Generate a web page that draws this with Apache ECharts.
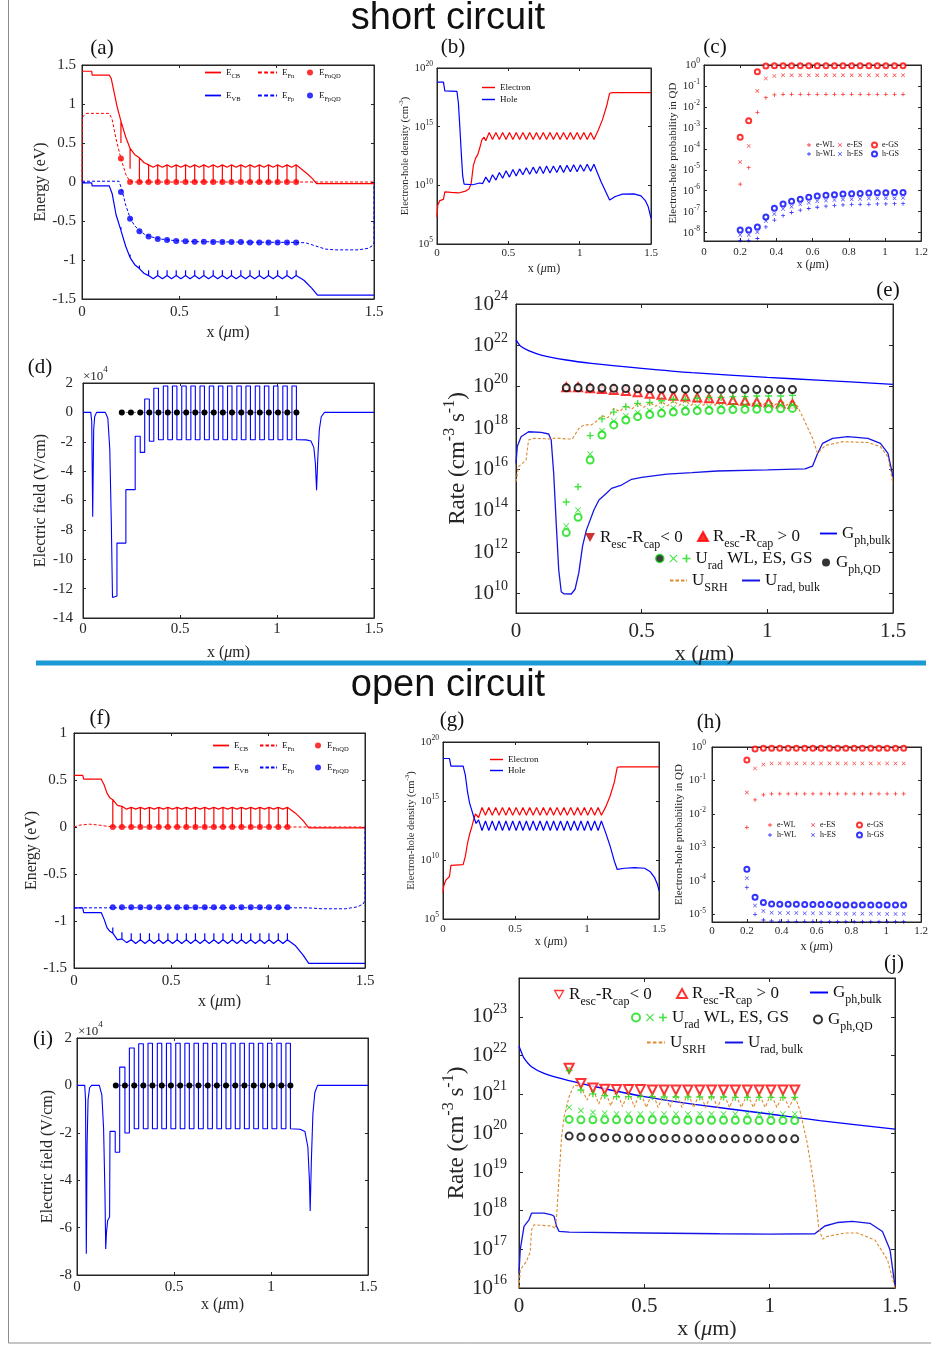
<!DOCTYPE html>
<html>
<head>
<meta charset="utf-8">
<title>short circuit / open circuit</title>
<script src="https://cdn.jsdelivr.net/npm/echarts@6.0.0/dist/echarts.min.js"></script>
<style>
  html, body { margin: 0; padding: 0; background: #fff; }
  #main { width: 931px; height: 1346px; }
</style>
</head>
<body>
<div id="main"></div>
<script>
// QD positions (um), shared by all marker series
const qdX = [0.2, 0.247, 0.295, 0.342, 0.389, 0.437, 0.484, 0.532, 0.579, 0.626, 0.674, 0.721, 0.768, 0.816, 0.863, 0.911, 0.958, 1.005, 1.053, 1.1];

// ---------- (a) band diagram, short circuit (eV) ----------
const aEcb = [[0,1.42],[0.05,1.42],[0.052,1.37],[0.14,1.37],[0.15,1.33],[0.165,1.15],[0.18,0.97],[0.2,0.78],[0.2,0.5],[0.2,0.78],[0.224,0.58],[0.247,0.43],[0.247,0.17],[0.247,0.43],[0.271,0.35],[0.295,0.31],[0.295,0],[0.295,0.31],[0.318,0.25],[0.342,0.22],[0.342,0],[0.342,0.22],[0.366,0.19],
  [0.389,0.22],[0.389,0],[0.389,0.22],[0.413,0.19],[0.437,0.22],[0.437,0],[0.437,0.22],[0.46,0.19],[0.484,0.22],[0.484,0],[0.484,0.22],[0.508,0.19],
  [0.532,0.22],[0.532,0],[0.532,0.22],[0.555,0.19],[0.579,0.22],[0.579,0],[0.579,0.22],[0.602,0.19],[0.626,0.22],[0.626,0],[0.626,0.22],[0.65,0.19],
  [0.674,0.22],[0.674,0],[0.674,0.22],[0.697,0.19],[0.721,0.22],[0.721,0],[0.721,0.22],[0.745,0.19],[0.768,0.22],[0.768,0],[0.768,0.22],[0.792,0.19],
  [0.816,0.22],[0.816,0],[0.816,0.22],[0.84,0.19],[0.863,0.22],[0.863,0],[0.863,0.22],[0.887,0.19],[0.911,0.22],[0.911,0],[0.911,0.22],[0.935,0.19],
  [0.958,0.22],[0.958,0],[0.958,0.22],[0.982,0.19],[1.005,0.22],[1.005,0],[1.005,0.22],[1.029,0.19],[1.053,0.22],[1.053,0],[1.053,0.22],[1.077,0.19],
  [1.1,0.22],[1.1,0],[1.1,0.22],[1.13,0.16],[1.16,0.1],[1.185,0.04],[1.205,-0.02],[1.5,-0.02]];
const aEvb = [[0,-0.01],[0.05,-0.01],[0.052,-0.05],[0.14,-0.05],[0.155,-0.15],[0.175,-0.42],[0.2,-0.62],[0.2,-0.58],[0.2,-0.62],[0.224,-0.82],[0.247,-0.97],[0.247,-0.93],[0.247,-0.97],[0.271,-1.06],[0.295,-1.11],[0.295,-1.07],[0.295,-1.11],[0.318,-1.17],[0.342,-1.2],[0.342,-1.13],[0.342,-1.2],[0.366,-1.24],
  [0.389,-1.2],[0.389,-1.13],[0.389,-1.2],[0.413,-1.24],[0.437,-1.2],[0.437,-1.13],[0.437,-1.2],[0.46,-1.24],[0.484,-1.2],[0.484,-1.13],[0.484,-1.2],[0.508,-1.24],
  [0.532,-1.2],[0.532,-1.13],[0.532,-1.2],[0.555,-1.24],[0.579,-1.2],[0.579,-1.13],[0.579,-1.2],[0.602,-1.24],[0.626,-1.2],[0.626,-1.13],[0.626,-1.2],[0.65,-1.24],
  [0.674,-1.2],[0.674,-1.13],[0.674,-1.2],[0.697,-1.24],[0.721,-1.2],[0.721,-1.13],[0.721,-1.2],[0.745,-1.24],[0.768,-1.2],[0.768,-1.13],[0.768,-1.2],[0.792,-1.24],
  [0.816,-1.2],[0.816,-1.13],[0.816,-1.2],[0.84,-1.24],[0.863,-1.2],[0.863,-1.13],[0.863,-1.2],[0.887,-1.24],[0.911,-1.2],[0.911,-1.13],[0.911,-1.2],[0.935,-1.24],
  [0.958,-1.2],[0.958,-1.13],[0.958,-1.2],[0.982,-1.24],[1.005,-1.2],[1.005,-1.13],[1.005,-1.2],[1.029,-1.24],[1.053,-1.2],[1.053,-1.13],[1.053,-1.2],[1.077,-1.24],
  [1.1,-1.2],[1.1,-1.13],[1.1,-1.2],[1.14,-1.26],[1.18,-1.36],[1.21,-1.45],[1.5,-1.45]];
const aEfn = [[0,0],[0.002,0.83],[0.02,0.88],[0.14,0.88],[0.155,0.8],[0.175,0.55],[0.2,0.3],[0.225,0.1],[0.245,0.01],[0.27,0],[1.5,0]];
const aEfp = [[0,0.01],[0.19,0.01],[0.205,-0.1],[0.225,-0.3],[0.247,-0.46],[0.27,-0.56],[0.295,-0.62],[0.32,-0.67],[0.35,-0.7],[0.4,-0.73],[0.45,-0.745],[0.5,-0.755],[0.6,-0.765],[0.8,-0.77],[1.1,-0.775],[1.15,-0.78],[1.2,-0.82],[1.25,-0.86],[1.3,-0.87],[1.42,-0.87],[1.47,-0.85],[1.49,-0.82],[1.5,-0.78],[1.5,0]];
const aFnQd = [0.3, 0, 0, 0, 0, 0, 0, 0, 0, 0, 0, 0, 0, 0, 0, 0, 0, 0, 0, 0];
const aFpQd = [-0.128, -0.47, -0.63, -0.7, -0.73, -0.745, -0.755, -0.76, -0.765, -0.765, -0.77, -0.77, -0.77, -0.77, -0.775, -0.775, -0.775, -0.775, -0.775, -0.775];

// ---------- (b) carrier density, short circuit (log10 cm^-3) ----------
const bElec = [[0,7.3],[0.005,8.3],[0.02,8.7],[0.045,8.8],[0.055,9.45],[0.1,9.4],[0.15,9.35],[0.2,9.5],[0.225,9.7],[0.24,10.2],[0.255,11.7],[0.27,12.3],[0.285,12.6],[0.3,13.2],[0.315,13.9],[0.33,14.1],
  [0.342,13.8],[0.366,14.5],[0.389,13.9],[0.413,14.5],[0.437,13.9],[0.46,14.5],[0.484,13.9],[0.508,14.5],[0.532,13.9],[0.555,14.5],[0.579,13.9],[0.602,14.5],[0.626,13.9],[0.65,14.5],
  [0.674,13.9],[0.697,14.5],[0.721,13.9],[0.745,14.5],[0.768,13.9],[0.792,14.5],[0.816,13.9],[0.84,14.5],[0.863,13.9],[0.887,14.5],[0.911,13.9],[0.935,14.5],[0.958,13.9],[0.982,14.5],
  [1.005,13.9],[1.029,14.5],[1.053,13.9],[1.077,14.5],[1.1,13.9],[1.13,14.7],[1.16,15.6],[1.19,16.8],[1.21,17.85],[1.23,17.9],[1.5,17.9]];
const bHole = [[0,18.8],[0.045,18.8],[0.055,18.05],[0.14,18.0],[0.15,17.0],[0.16,15.0],[0.17,12.8],[0.18,10.8],[0.19,10.1],[0.2,10.05],[0.25,10.05],[0.3,10.2],[0.32,10.15],
  [0.342,10.7],[0.366,10.25],[0.389,10.9],[0.413,10.45],[0.437,11.1],[0.46,10.6],[0.484,11.25],[0.508,10.7],[0.532,11.35],[0.555,10.8],[0.579,11.4],[0.602,10.9],[0.626,11.5],[0.65,10.95],
  [0.674,11.55],[0.697,11.0],[0.721,11.6],[0.745,11.0],[0.768,11.65],[0.792,11.05],[0.816,11.65],[0.84,11.1],[0.863,11.7],[0.887,11.1],[0.911,11.7],[0.935,11.15],[0.958,11.75],[0.982,11.15],
  [1.005,11.75],[1.029,11.2],[1.053,11.8],[1.077,11.2],[1.1,11.8],[1.15,10.3],[1.21,8.75],[1.25,9.05],[1.3,9.25],[1.38,9.27],[1.43,9.1],[1.46,8.7],[1.48,8.2],[1.5,7.2]];

// ---------- (c) occupation probability, short circuit (log10) ----------
const cEwl = [-5.69, -4.9, -2.26, -1.56, -1.43, -1.4, -1.4, -1.4, -1.4, -1.4, -1.4, -1.4, -1.4, -1.4, -1.4, -1.4, -1.4, -1.4, -1.4, -1.4];
const cEes = [-4.63, -3.86, -1.24, -0.64, -0.52, -0.49, -0.49, -0.49, -0.49, -0.49, -0.49, -0.49, -0.49, -0.49, -0.49, -0.49, -0.49, -0.49, -0.49, -0.49];
const cEgs = [-3.45, -2.66, -0.32, -0.05, -0.03, -0.03, -0.03, -0.03, -0.03, -0.03, -0.03, -0.03, -0.03, -0.03, -0.03, -0.03, -0.03, -0.03, -0.03, -0.03];
const cHwl = [-8.38, -8.38, -8.28, -7.73, -7.4, -7.19, -7.04, -6.93, -6.85, -6.79, -6.74, -6.71, -6.68, -6.66, -6.65, -6.65, -6.63, -6.63, -6.62, -6.62];
const cHes = [-8.11, -8.11, -7.97, -7.44, -7.11, -6.87, -6.76, -6.65, -6.57, -6.5, -6.47, -6.44, -6.42, -6.41, -6.39, -6.37, -6.37, -6.36, -6.36, -6.34];
const cHgs = [-7.87, -7.87, -7.73, -7.25, -6.84, -6.63, -6.5, -6.41, -6.31, -6.25, -6.22, -6.19, -6.16, -6.14, -6.13, -6.11, -6.1, -6.1, -6.08, -6.08];

// ---------- (d) electric field, short circuit (1e4 V/cm) ----------
const dField = [[0,0],[0.04,0],[0.045,-0.6],[0.05,-7.1],[0.055,-1.2],[0.06,-0.3],[0.07,0],[0.115,0],[0.128,-0.4],[0.138,-2.5],[0.146,-7.5],[0.152,-12.6],[0.158,-12.5],[0.175,-12.5],[0.175,-8.9],[0.221,-8.9],[0.221,-5.26],[0.269,-5.26],[0.269,-1.63],[0.295,-1.63],[0.295,-2.72],[0.318,-2.72],[0.318,0.91],[0.342,0.91],[0.342,-1.97],[0.365,-1.97],[0.365,1.64],[0.389,1.64],[0.389,-1.86],
  [0.414,-1.86],[0.414,1.8],[0.437,1.8],[0.437,-1.86],[0.461,-1.86],[0.461,1.8],[0.484,1.8],[0.484,-1.86],[0.509,-1.86],[0.509,1.8],[0.532,1.8],[0.532,-1.86],
  [0.556,-1.86],[0.556,1.8],[0.579,1.8],[0.579,-1.86],[0.603,-1.86],[0.603,1.8],[0.626,1.8],[0.626,-1.86],[0.651,-1.86],[0.651,1.8],[0.674,1.8],[0.674,-1.86],
  [0.698,-1.86],[0.698,1.8],[0.721,1.8],[0.721,-1.86],[0.745,-1.86],[0.745,1.8],[0.768,1.8],[0.768,-1.86],[0.793,-1.86],[0.793,1.8],[0.816,1.8],[0.816,-1.86],
  [0.84,-1.86],[0.84,1.8],[0.863,1.8],[0.863,-1.86],[0.888,-1.86],[0.888,1.8],[0.911,1.8],[0.911,-1.86],[0.935,-1.86],[0.935,1.8],[0.958,1.8],[0.958,-1.86],
  [0.982,-1.86],[0.982,1.8],[1.005,1.8],[1.005,-1.86],[1.03,-1.86],[1.03,1.8],[1.053,1.8],[1.053,-1.86],[1.077,-1.86],[1.077,1.8],[1.1,1.8],[1.1,-1.86],
  [1.15,-1.87],[1.175,-1.95],[1.19,-2.4],[1.198,-3.5],[1.204,-5.3],[1.21,-3.2],[1.218,-1.2],[1.228,-0.3],[1.245,0],[1.5,0]];
const dDots = [0, 0, 0, 0, 0, 0, 0, 0, 0, 0, 0, 0, 0, 0, 0, 0, 0, 0, 0, 0];

// ---------- (e) rates, short circuit (log10 cm^-3 s^-1) ----------
const eGph = [[0,22.26],[0.01,22.08],[0.02,21.94],[0.05,21.74],[0.1,21.53],[0.2,21.29],[0.3,21.13],[0.5,20.89],[0.7,20.68],[1.0,20.45],[1.2,20.32],[1.5,20.11]];
const eUrad = [[0,16.29],[0.005,17.1],[0.02,17.58],[0.05,17.82],[0.1,17.79],[0.13,17.71],[0.14,17.42],[0.15,15.8],[0.16,13.39],[0.17,11.13],[0.18,10.08],[0.19,9.98],[0.22,9.97],[0.235,10.2],[0.25,11.0],[0.265,12.3],[0.28,13.06],[0.31,14.03],[0.33,14.52],[0.36,14.84],[0.38,15.08],[0.42,15.24],[0.46,15.52],[0.5,15.61],[0.6,15.77],[0.7,15.84],[0.8,15.92],[1.0,15.97],[1.15,16.02],[1.18,16.16],[1.2,16.77],[1.22,17.26],[1.26,17.5],[1.32,17.58],[1.4,17.5],[1.45,17.26],[1.48,16.77],[1.5,15.65]];
const eSrh = [[0,15.4],[0.01,16.13],[0.04,16.45],[0.05,17.42],[0.07,17.5],[0.14,17.47],[0.16,17.52],[0.2,17.47],[0.224,17.47],[0.25,17.98],[0.271,18.15],[0.3,18.15],[0.318,18.3],
  [0.342,18.6],[0.366,18.5],[0.389,18.95],[0.413,18.8],[0.437,19.1],[0.46,18.9],[0.484,19.2],[0.508,19.0],[0.532,19.25],[0.555,19.05],[0.579,19.28],[0.602,19.07],[0.626,19.3],[0.65,19.1],
  [0.674,19.32],[0.697,19.1],[0.721,19.33],[0.745,19.1],[0.768,19.34],[0.792,19.1],[0.816,19.35],[0.84,19.1],[0.863,19.35],[0.887,19.1],[0.911,19.35],[0.935,19.1],[0.958,19.35],[0.982,19.1],
  [1.005,19.35],[1.029,19.1],[1.053,19.35],[1.077,19.1],[1.1,19.35],[1.12,19.05],[1.15,18.3],[1.18,17.5],[1.2,16.77],[1.23,17.15],[1.3,17.34],[1.4,17.3],[1.45,17.1],[1.48,16.6],[1.5,15.3]];
const eGqd = [19.95, 19.95, 19.94, 19.93, 19.92, 19.91, 19.9, 19.9, 19.89, 19.89, 19.88, 19.88, 19.88, 19.87, 19.87, 19.87, 19.86, 19.86, 19.86, 19.86];
const eRpos = [19.97, 19.97, 19.92, 19.89, 19.84, 19.79, 19.73, 19.66, 19.61, 19.56, 19.52, 19.48, 19.44, 19.4, 19.35, 19.32, 19.27, 19.24, 19.19, 19.16];
const eRneg = [];
const eGs = [14.42, 15.16, 17.63, 18.44, 18.77, 19.03, 19.19, 19.24, 19.32, 19.39, 19.4, 19.44, 19.48, 19.48, 19.52, 19.52, 19.55, 19.55, 19.55, 19.58];
const eEs = [13.26, 14.03, 16.74, 17.87, 18.34, 18.58, 18.74, 18.84, 18.92, 18.97, 19.0, 19.03, 19.04, 19.06, 19.08, 19.1, 19.11, 19.11, 19.13, 19.13];
const eWl = [12.94, 13.68, 16.45, 17.66, 18.15, 18.39, 18.55, 18.65, 18.71, 18.77, 18.81, 18.84, 18.85, 18.87, 18.89, 18.9, 18.91, 18.92, 18.93, 18.95];

// ---------- (f) band diagram, open circuit (eV) ----------
const fEcb = [[0,0.55],[0.045,0.55],[0.05,0.51],[0.14,0.51],[0.155,0.45],[0.17,0.36],[0.185,0.31],[0.2,0.29],[0.2,0],[0.2,0.29],[0.224,0.23],[0.247,0.22],[0.247,0],[0.247,0.22],[0.271,0.19],[0.295,0.21],[0.295,0],[0.295,0.21],[0.318,0.19],
  [0.342,0.21],[0.342,0],[0.342,0.21],[0.366,0.19],[0.389,0.21],[0.389,0],[0.389,0.21],[0.413,0.19],[0.437,0.21],[0.437,0],[0.437,0.21],[0.46,0.19],[0.484,0.21],[0.484,0],[0.484,0.21],[0.508,0.19],
  [0.532,0.21],[0.532,0],[0.532,0.21],[0.555,0.19],[0.579,0.21],[0.579,0],[0.579,0.21],[0.602,0.19],[0.626,0.21],[0.626,0],[0.626,0.21],[0.65,0.19],
  [0.674,0.21],[0.674,0],[0.674,0.21],[0.697,0.19],[0.721,0.21],[0.721,0],[0.721,0.21],[0.745,0.19],[0.768,0.21],[0.768,0],[0.768,0.21],[0.792,0.19],
  [0.816,0.21],[0.816,0],[0.816,0.21],[0.84,0.19],[0.863,0.21],[0.863,0],[0.863,0.21],[0.887,0.19],[0.911,0.21],[0.911,0],[0.911,0.21],[0.935,0.19],
  [0.958,0.21],[0.958,0],[0.958,0.21],[0.982,0.19],[1.005,0.21],[1.005,0],[1.005,0.21],[1.029,0.19],[1.053,0.21],[1.053,0],[1.053,0.21],[1.077,0.19],
  [1.1,0.21],[1.1,0],[1.1,0.21],[1.14,0.15],[1.18,0.07],[1.21,-0.01],[1.5,-0.01]];
const fEvb = [[0,-0.86],[0.045,-0.86],[0.05,-0.91],[0.14,-0.91],[0.155,-0.98],[0.17,-1.07],[0.185,-1.11],[0.2,-1.13],[0.2,-1.07],[0.2,-1.13],[0.224,-1.2],[0.247,-1.19],[0.247,-1.12],[0.247,-1.19],[0.271,-1.23],[0.295,-1.2],[0.295,-1.13],[0.295,-1.2],[0.318,-1.24],
  [0.342,-1.2],[0.342,-1.13],[0.342,-1.2],[0.366,-1.24],[0.389,-1.2],[0.389,-1.13],[0.389,-1.2],[0.413,-1.24],[0.437,-1.2],[0.437,-1.13],[0.437,-1.2],[0.46,-1.24],[0.484,-1.2],[0.484,-1.13],[0.484,-1.2],[0.508,-1.24],
  [0.532,-1.2],[0.532,-1.13],[0.532,-1.2],[0.555,-1.24],[0.579,-1.2],[0.579,-1.13],[0.579,-1.2],[0.602,-1.24],[0.626,-1.2],[0.626,-1.13],[0.626,-1.2],[0.65,-1.24],
  [0.674,-1.2],[0.674,-1.13],[0.674,-1.2],[0.697,-1.24],[0.721,-1.2],[0.721,-1.13],[0.721,-1.2],[0.745,-1.24],[0.768,-1.2],[0.768,-1.13],[0.768,-1.2],[0.792,-1.24],
  [0.816,-1.2],[0.816,-1.13],[0.816,-1.2],[0.84,-1.24],[0.863,-1.2],[0.863,-1.13],[0.863,-1.2],[0.887,-1.24],[0.911,-1.2],[0.911,-1.13],[0.911,-1.2],[0.935,-1.24],
  [0.958,-1.2],[0.958,-1.13],[0.958,-1.2],[0.982,-1.24],[1.005,-1.2],[1.005,-1.13],[1.005,-1.2],[1.029,-1.24],[1.053,-1.2],[1.053,-1.13],[1.053,-1.2],[1.077,-1.24],
  [1.1,-1.2],[1.1,-1.13],[1.1,-1.2],[1.14,-1.26],[1.18,-1.36],[1.21,-1.45],[1.5,-1.45]];
const fEfn = [[0,0],[0.03,0.02],[0.08,0.03],[0.13,0.02],[0.18,0.005],[0.22,0],[1.5,0]];
const fEfp = [[0,-0.86],[1.2,-0.86],[1.28,-0.87],[1.4,-0.87],[1.46,-0.85],[1.49,-0.82],[1.5,-0.78],[1.5,0]];
const fFnQd = [0, 0, 0, 0, 0, 0, 0, 0, 0, 0, 0, 0, 0, 0, 0, 0, 0, 0, 0, 0];
const fFpQd = [-0.855, -0.855, -0.855, -0.855, -0.855, -0.855, -0.855, -0.855, -0.855, -0.855, -0.855, -0.855, -0.855, -0.855, -0.855, -0.855, -0.855, -0.855, -0.855, -0.855];

// ---------- (g) carrier density, open circuit (log10 cm^-3) ----------
const gElec = [[0,7.25],[0.005,7.8],[0.02,8.3],[0.045,8.6],[0.055,9.55],[0.14,9.6],[0.155,10.3],[0.17,11.4],[0.185,12.2],[0.2,12.8],[0.215,13.5],[0.225,13.9],[0.235,13.8],
  [0.247,13.6],[0.271,14.45],[0.295,13.8],[0.318,14.45],[0.342,13.8],[0.366,14.45],[0.389,13.8],[0.413,14.45],[0.437,13.8],[0.46,14.45],[0.484,13.8],[0.508,14.45],[0.532,13.8],[0.555,14.45],
  [0.579,13.8],[0.602,14.45],[0.626,13.8],[0.65,14.45],[0.674,13.8],[0.697,14.45],[0.721,13.8],[0.745,14.45],[0.768,13.8],[0.792,14.45],[0.816,13.8],[0.84,14.45],[0.863,13.8],[0.887,14.45],
  [0.911,13.8],[0.935,14.45],[0.958,13.8],[0.982,14.45],[1.005,13.8],[1.029,14.45],[1.053,13.8],[1.077,14.45],[1.1,13.8],[1.13,14.5],[1.16,15.4],[1.19,16.6],[1.21,17.85],[1.23,17.9],[1.5,17.9]];
const gHole = [[0,18.6],[0.045,18.6],[0.055,17.95],[0.14,17.95],[0.155,17.2],[0.17,15.8],[0.185,14.8],[0.2,14.2],[0.215,13.6],[0.23,13.1],
  [0.247,13.4],[0.271,12.5],[0.295,13.3],[0.318,12.5],[0.342,13.3],[0.366,12.5],[0.389,13.3],[0.413,12.5],[0.437,13.3],[0.46,12.5],[0.484,13.3],[0.508,12.5],[0.532,13.3],[0.555,12.5],
  [0.579,13.3],[0.602,12.5],[0.626,13.3],[0.65,12.5],[0.674,13.3],[0.697,12.5],[0.721,13.3],[0.745,12.5],[0.768,13.3],[0.792,12.5],[0.816,13.3],[0.84,12.5],[0.863,13.3],[0.887,12.5],
  [0.911,13.3],[0.935,12.5],[0.958,13.3],[0.982,12.5],[1.005,13.3],[1.029,12.5],[1.053,13.3],[1.077,12.5],[1.1,13.3],[1.13,12.3],[1.16,11.2],[1.19,9.9],[1.21,9.2],[1.26,9.3],[1.33,9.35],[1.4,9.3],[1.44,9.0],[1.47,8.5],[1.49,7.9],[1.5,7.4]];

// ---------- (h) occupation probability, open circuit (log10) ----------
const hEwl = [-2.4, -1.58, -1.43, -1.4, -1.4, -1.4, -1.4, -1.4, -1.4, -1.4, -1.4, -1.4, -1.4, -1.4, -1.4, -1.4, -1.4, -1.4, -1.4, -1.4];
const hEes = [-1.36, -0.64, -0.52, -0.49, -0.49, -0.49, -0.49, -0.49, -0.49, -0.49, -0.49, -0.49, -0.49, -0.49, -0.49, -0.49, -0.49, -0.49, -0.49, -0.49];
const hEgs = [-0.39, -0.06, -0.04, -0.04, -0.04, -0.04, -0.04, -0.04, -0.04, -0.04, -0.04, -0.04, -0.04, -0.04, -0.04, -0.04, -0.04, -0.04, -0.04, -0.04];
const hHwl = [-4.2, -5.0, -5.17, -5.2, -5.21, -5.21, -5.21, -5.21, -5.21, -5.22, -5.22, -5.22, -5.22, -5.22, -5.22, -5.22, -5.22, -5.22, -5.22, -5.22];
const hHes = [-3.92, -4.74, -4.9, -4.95, -4.96, -4.96, -4.96, -4.97, -4.97, -4.97, -4.97, -4.98, -4.98, -4.98, -4.98, -4.98, -4.98, -4.99, -4.99, -4.99];
const hHgs = [-3.65, -4.49, -4.65, -4.69, -4.7, -4.7, -4.7, -4.71, -4.71, -4.71, -4.71, -4.72, -4.72, -4.72, -4.72, -4.72, -4.72, -4.72, -4.72, -4.72];

// ---------- (i) electric field, open circuit (1e4 V/cm) ----------
const iField = [[0,0],[0.04,0],[0.044,-0.6],[0.048,-7.1],[0.052,-2.5],[0.057,-0.6],[0.065,-0.1],[0.075,0],[0.115,0],[0.128,-0.4],[0.137,-1.8],[0.144,-4.5],[0.148,-6.9],[0.152,-6.2],[0.158,-5.7],[0.168,-5.55],[0.17,-1.94],[0.197,-1.94],[0.197,-2.82],[0.22,-2.82],[0.22,0.77],[0.247,0.77],[0.247,-2.01],[0.27,-2.01],[0.27,1.58],[0.295,1.58],[0.295,-1.83],[0.318,-1.83],[0.318,1.76],[0.342,1.76],[0.342,-1.83],
  [0.366,-1.83],[0.366,1.78],[0.389,1.78],[0.389,-1.83],[0.414,-1.83],[0.414,1.78],[0.437,1.78],[0.437,-1.83],[0.461,-1.83],[0.461,1.78],[0.484,1.78],[0.484,-1.83],
  [0.509,-1.83],[0.509,1.78],[0.532,1.78],[0.532,-1.83],[0.556,-1.83],[0.556,1.78],[0.579,1.78],[0.579,-1.83],[0.603,-1.83],[0.603,1.78],[0.626,1.78],[0.626,-1.83],
  [0.651,-1.83],[0.651,1.78],[0.674,1.78],[0.674,-1.83],[0.698,-1.83],[0.698,1.78],[0.721,1.78],[0.721,-1.83],[0.745,-1.83],[0.745,1.78],[0.768,1.78],[0.768,-1.83],
  [0.793,-1.83],[0.793,1.78],[0.816,1.78],[0.816,-1.83],[0.84,-1.83],[0.84,1.78],[0.863,1.78],[0.863,-1.83],[0.888,-1.83],[0.888,1.78],[0.911,1.78],[0.911,-1.83],
  [0.935,-1.83],[0.935,1.78],[0.958,1.78],[0.958,-1.83],[0.982,-1.83],[0.982,1.78],[1.005,1.78],[1.005,-1.83],[1.03,-1.83],[1.03,1.78],[1.053,1.78],[1.053,-1.83],
  [1.077,-1.83],[1.077,1.78],[1.1,1.78],[1.1,-1.83],[1.15,-1.85],[1.175,-1.95],[1.19,-2.6],[1.198,-4],[1.202,-5.3],[1.208,-3.2],[1.216,-1.2],[1.226,-0.3],[1.24,0],[1.5,0]];
const iDots = [0, 0, 0, 0, 0, 0, 0, 0, 0, 0, 0, 0, 0, 0, 0, 0, 0, 0, 0, 0];

// ---------- (j) rates, open circuit (log10 cm^-3 s^-1) ----------
const jGph = [[0,22.24],[0.01,22.08],[0.02,21.93],[0.05,21.71],[0.1,21.54],[0.2,21.35],[0.3,21.2],[0.5,20.94],[0.7,20.74],[1.0,20.49],[1.2,20.32],[1.5,20.1]];
const jUrad = [[0,16.38],[0.005,16.99],[0.02,17.59],[0.04,17.76],[0.05,17.93],[0.1,17.93],[0.13,17.89],[0.14,17.85],[0.15,17.59],[0.16,17.46],[0.2,17.44],[0.5,17.42],[0.8,17.4],[1.0,17.39],[1.18,17.4],[1.2,17.5],[1.22,17.6],[1.27,17.69],[1.33,17.72],[1.4,17.67],[1.45,17.46],[1.48,16.99],[1.5,16.04]];
const jSrh = [[0,16.0],[0.005,16.47],[0.03,16.69],[0.045,16.94],[0.05,17.5],[0.06,17.63],[0.13,17.6],[0.145,17.54],[0.15,17.85],[0.16,18.88],[0.17,19.91],[0.18,20.42],[0.2,20.94],[0.22,21.24],
  [0.247,21.2],[0.271,20.85],[0.295,21.15],[0.318,20.75],[0.342,21.12],[0.366,20.7],[0.389,21.1],[0.413,20.68],[0.437,21.08],[0.46,20.67],[0.484,21.07],[0.508,20.66],[0.532,21.06],[0.555,20.66],
  [0.579,21.05],[0.602,20.66],[0.626,21.05],[0.65,20.66],[0.674,21.04],[0.697,20.66],[0.721,21.04],[0.745,20.66],[0.768,21.03],[0.792,20.66],[0.816,21.03],[0.84,20.66],[0.863,21.02],[0.887,20.66],
  [0.911,21.02],[0.935,20.66],[0.958,21.01],[0.982,20.66],[1.005,21.01],[1.029,20.66],[1.053,21.0],[1.077,20.66],[1.1,20.95],[1.12,20.6],[1.15,19.74],[1.18,18.53],[1.195,17.59],[1.21,17.26],[1.23,17.33],[1.3,17.42],[1.35,17.42],[1.42,17.24],[1.47,16.73],[1.5,16.0]];
const jRneg = [21.67, 21.28, 21.16, 21.13, 21.12, 21.12, 21.12, 21.11, 21.11, 21.11, 21.11, 21.11, 21.11, 21.11, 21.11, 21.11, 21.11, 21.11, 21.11, 21.11];
const jRpos = [];
const jGs = [21.61, 21.11, 21.01, 20.96, 20.94, 20.94, 20.94, 20.94, 20.93, 20.93, 20.93, 20.93, 20.93, 20.93, 20.92, 20.92, 20.92, 20.92, 20.92, 20.92];
const jEs = [20.66, 20.58, 20.53, 20.51, 20.49, 20.49, 20.49, 20.49, 20.49, 20.49, 20.49, 20.49, 20.49, 20.49, 20.49, 20.49, 20.49, 20.49, 20.49, 20.49];
const jWl = [20.35, 20.34, 20.34, 20.34, 20.34, 20.34, 20.34, 20.34, 20.33, 20.33, 20.33, 20.33, 20.33, 20.33, 20.33, 20.33, 20.32, 20.32, 20.32, 20.32];
const jGqd = [19.92, 19.9, 19.88, 19.88, 19.87, 19.87, 19.86, 19.86, 19.86, 19.86, 19.85, 19.85, 19.85, 19.85, 19.85, 19.85, 19.85, 19.85, 19.85, 19.85];

// ---------- styling helpers ----------
const FONT = '"Liberation Serif", "Times New Roman", serif';
const SANS = '"Liberation Sans", Arial, sans-serif';
const AX = '#262626';
const RED = '#ff0000', BLUE = '#0000ff', GREEN = '#11dd11', ORANGE = '#dd8a2e';
const PLUS = 'path://M4,0H6V4H10V6H6V10H4V6H0V4H4Z';
const CROSS = 'path://M1,0L5,4L9,0L10,1L6,5L10,9L9,10L5,6L1,10L0,9L4,5L0,1Z';
const DOWN_TRI = 'path://M0,0L10,0L5,9Z';
// legend icons for line series (thin bars, plain or dashed)
const ICON_SOLID = 'path://M0,0H20V2.2H0Z';
const ICON_DASH = 'path://M0,0H4V2.2H0ZM6.5,0H10.5V2.2H6.5ZM13,0H17V2.2H13ZM19,0H20V2.2H19Z';
const XNAME = '{b|x (}{i|\u03bc}{b|m)}';

function richSet(base, small, color) {
  const lh = Math.round(base * 1.4);
  const c = color || AX;
  return {
    b: { fontFamily: FONT, fontSize: base, color: c, lineHeight: lh, verticalAlign: 'middle' },
    i: { fontFamily: FONT, fontSize: base, color: c, lineHeight: lh, verticalAlign: 'middle', fontStyle: 'italic' },
    p: { fontFamily: FONT, fontSize: small, color: c, lineHeight: lh, verticalAlign: 'top' },
    s: { fontFamily: FONT, fontSize: small, color: c, lineHeight: lh, verticalAlign: 'bottom' }
  };
}
const logFmt = v => '{b|10}{p|' + Math.round(v) + '}';

const grids = [], xAxes = [], yAxes = [], series = [], legends = [];

function axisBase(o, gi, pos) {
  return {
    type: 'value', gridIndex: gi, position: pos, min: o.min, max: o.max,
    interval: o.interval, minInterval: o.step, maxInterval: o.step,
    axisLine: { show: true, onZero: false, lineStyle: { color: AX, width: 1 } },
    axisTick: { show: true, inside: true, length: o.tick || 4, lineStyle: { color: AX, width: 1 } },
    splitLine: { show: false }
  };
}
function mainAxis(o, gi, pos) {
  const ax = axisBase(o, gi, pos);
  ax.name = o.name;
  ax.nameLocation = 'middle';
  ax.nameGap = o.gap;
  ax.nameTextStyle = { fontFamily: FONT, fontSize: o.nameSize, color: AX, rich: richSet(o.nameSize, Math.round(o.nameSize * 0.7)) };
  ax.axisLabel = { show: true, margin: o.margin, fontFamily: FONT, fontSize: o.size, color: AX };
  if (o.log) {
    ax.axisLabel.formatter = logFmt;
    ax.axisLabel.rich = richSet(o.size, o.sup);
    ax.axisLabel.showMinLabel = o.showMin;
    ax.axisLabel.showMaxLabel = o.showMax;
  }
  return ax;
}
function panel(box, xo, yo) {
  const gi = grids.length;
  grids.push({ left: box[0], top: box[1], width: box[2], height: box[3], show: true, borderColor: AX, borderWidth: 1, backgroundColor: 'transparent' });
  const xi = xAxes.length, yi = yAxes.length;
  xAxes.push(mainAxis(xo, gi, 'bottom'));
  xAxes.push(Object.assign(axisBase(xo, gi, 'top'), { axisLabel: { show: false } }));
  yAxes.push(mainAxis(yo, gi, 'left'));
  yAxes.push(Object.assign(axisBase(yo, gi, 'right'), { axisLabel: { show: false } }));
  return { xi, yi };
}
const LINE_ICON = {};
function ln(p, name, data, color, width, type, smooth) {
  LINE_ICON[name] = (type && type !== 'solid') ? ICON_DASH : ICON_SOLID;
  series.push({
    type: 'line', name, xAxisIndex: p.xi, yAxisIndex: p.yi, data,
    symbol: 'none', showSymbol: false, smooth: smooth || false,
    lineStyle: { color, width: width || 1.2, type: type || 'solid' },
    itemStyle: { color }, silent: true, animation: false, z: 2
  });
}
function sc(p, name, ys, symbol, size, color, extra) {
  series.push(Object.assign({
    type: 'scatter', name, xAxisIndex: p.xi, yAxisIndex: p.yi,
    data: ys.map((v, i) => [qdX[i], v]),
    symbol, symbolSize: size, itemStyle: { color, borderWidth: 1.2 },
    silent: true, animation: false, z: 3
  }, extra || {}));
}

// legend labels (rich text)
const LBL = {
  aEcb: '{m|E}{s|CB}', aEfn: '{m|E}{s|Fn}', aEfnqd: '{m|E}{s|FnQD}', aEvb: '{m|E}{s|VB}', aEfp: '{m|E}{s|Fp}', aEfpqd: '{m|E}{s|FpQD}',
  fEcb: '{m|E}{s|CB}', fEfn: '{m|E}{s|Fn}', fEfnqd: '{m|E}{s|FnQD}', fEvb: '{m|E}{s|VB}', fEfp: '{m|E}{s|Fp}', fEfpqd: '{m|E}{s|FpQD}',
  bElec: '{m|Electron}', bHole: '{m|Hole}', gElec: '{m|Electron}', gHole: '{m|Hole}',
  cEwl: '{m|e-WL}', cEes: '{m|e-ES}', cEgs: '{m|e-GS}', cHwl: '{m|h-WL}', cHes: '{m|h-ES}', cHgs: '{m|h-GS}',
  hEwl: '{m|e-WL}', hEes: '{m|e-ES}', hEgs: '{m|e-GS}', hHwl: '{m|h-WL}', hHes: '{m|h-ES}', hHgs: '{m|h-GS}',
  eRneg: '{m|R}{s|esc}{m|-R}{s|cap}{m|< 0}', eRpos: '{m|R}{s|esc}{m|-R}{s|cap}{m| > 0}', eGph: '{m|G}{s|ph,bulk}',
  eGs: '{m|U}{s|rad}{m| WL, ES, GS}', eGqd: '{m|G}{s|ph,QD}', eSrh: '{m|U}{s|SRH}', eUrad: '{m|U}{s|rad, bulk}',
  jRneg: '{m|R}{s|esc}{m|-R}{s|cap}{m|< 0}', jRpos: '{m|R}{s|esc}{m|-R}{s|cap}{m| > 0}', jGph: '{m|G}{s|ph,bulk}',
  jGs: '{m|U}{s|rad}{m| WL, ES, GS}', jGqd: '{m|G}{s|ph,QD}', jSrh: '{m|U}{s|SRH}', jUrad: '{m|U}{s|rad, bulk}'
};
function legRich(base, small) {
  const lh = Math.round(base * 1.5);
  return {
    m: { fontFamily: FONT, fontSize: base, color: '#111', lineHeight: lh, verticalAlign: 'middle' },
    s: { fontFamily: FONT, fontSize: small, color: '#111', lineHeight: lh, verticalAlign: 'bottom' }
  };
}
function lg(data, left, yc, base, small, iw, ih, gap) {
  const lh = Math.round(base * 1.5);
  const items = data.map(d => (typeof d === 'string' && LINE_ICON[d]) ? { name: d, icon: LINE_ICON[d] } : d);
  legends.push({
    data: items, left, top: yc - lh / 2, orient: 'horizontal', padding: 0, itemGap: gap || 0,
    itemWidth: iw, itemHeight: ih, selectedMode: false,
    formatter: n => LBL[n] || '',
    textStyle: { fontFamily: FONT, fontSize: base, color: '#111', rich: legRich(base, small) }
  });
}

// ---------- panels ----------
const A = panel([82, 65, 292, 234],
  { min: 0, max: 1.5, interval: 0.5, size: 15, margin: 6, name: XNAME, nameSize: 16, gap: 23, tick: 3 },
  { min: -1.5, max: 1.5, interval: 0.5, size: 15, margin: 6, name: 'Energy (eV)', nameSize: 16, gap: 29, tick: 3 });
const B = panel([437, 68, 214, 176],
  { min: 0, max: 1.5, interval: 0.5, size: 11, margin: 4, name: XNAME, nameSize: 12, gap: 16, tick: 3 },
  { min: 5, max: 20, interval: 5, log: true, size: 11, sup: 7.5, margin: 4, name: '{b|Electron-hole density (cm}{p|-3}{b|)}', nameSize: 10.5, gap: 22, tick: 3 });
const C = panel([704, 65, 219, 176],
  { min: 0, max: 1.2, interval: 0.2, size: 11, margin: 6, name: XNAME, nameSize: 12, gap: 14, tick: 3 },
  { min: -8.4, max: 0, step: 1, log: true, showMin: false, size: 11, sup: 7.5, margin: 4, name: 'Electron-hole probability in QD', nameSize: 11, gap: 21, tick: 3 });
const D = panel([83, 383, 291, 235],
  { min: 0, max: 1.5, interval: 0.5, size: 15, margin: 4, name: XNAME, nameSize: 16, gap: 24, tick: 3 },
  { min: -14, max: 2, interval: 2, size: 15, margin: 10, name: 'Electric field (V/cm)', nameSize: 16, gap: 27, tick: 3 });
const E = panel([516, 304, 377, 309],
  { min: 0, max: 1.5, interval: 0.5, size: 21, margin: 8, name: XNAME, nameSize: 22, gap: 15, tick: 4 },
  { min: 9.05, max: 24, step: 2, log: true, showMin: false, size: 21, sup: 14, margin: 8, name: '{b|Rate (cm}{p|-3}{b| s}{p|-1}{b|)}', nameSize: 23, gap: 37, tick: 4 });
const F = panel([74, 733, 291, 235],
  { min: 0, max: 1.5, interval: 0.5, size: 15, margin: 6, name: XNAME, nameSize: 16, gap: 23, tick: 3 },
  { min: -1.5, max: 1, interval: 0.5, size: 15, margin: 7, name: 'Energy (eV)', nameSize: 16, gap: 28, tick: 3 });
const G = panel([443, 742, 216, 177],
  { min: 0, max: 1.5, interval: 0.5, size: 11, margin: 5, name: XNAME, nameSize: 12, gap: 13, tick: 3 },
  { min: 5, max: 20, interval: 5, log: true, size: 11, sup: 7.5, margin: 4, name: '{b|Electron-hole density (cm}{p|-3}{b|)}', nameSize: 10.5, gap: 22, tick: 3 });
const H = panel([712, 747, 219, 175],
  { min: 0, max: 1.2, interval: 0.2, size: 11, margin: 4, name: XNAME, nameSize: 12, gap: 16, tick: 3 },
  { min: -5.23, max: 0, step: 1, log: true, showMin: false, size: 11, sup: 7.5, margin: 6, name: 'Electron-hole probability in QD', nameSize: 11, gap: 23, tick: 3 });
const I = panel([77, 1038, 291, 237],
  { min: 0, max: 1.5, interval: 0.5, size: 15, margin: 5, name: XNAME, nameSize: 16, gap: 19, tick: 3 },
  { min: -8, max: 2, interval: 2, size: 15, margin: 5, name: 'Electric field (V/cm)', nameSize: 16, gap: 20, tick: 3 });
const J = panel([519, 978, 376, 310],
  { min: 0, max: 1.5, interval: 0.5, size: 21, margin: 8, name: XNAME, nameSize: 22, gap: 24, tick: 4 },
  { min: 16, max: 24, interval: 1, log: true, showMax: false, size: 21, sup: 14, margin: 12, name: '{b|Rate (cm}{p|-3}{b| s}{p|-1}{b|)}', nameSize: 23, gap: 38, tick: 4 });

// ---------- series ----------
// (a)
ln(A, 'aEfn', aEfn, RED, 1, [3, 2]);
ln(A, 'aEfp', aEfp, BLUE, 1, [3, 2]);
ln(A, 'aEcb', aEcb, RED, 1.2);
ln(A, 'aEvb', aEvb, BLUE, 1.2);
sc(A, 'aEfnqd', aFnQd, 'circle', 6, RED);
sc(A, 'aEfpqd', aFpQd, 'circle', 6, BLUE);
// (b)
ln(B, 'bElec', bElec, RED, 1.2);
ln(B, 'bHole', bHole, BLUE, 1.2);
// (c)
sc(C, 'cEwl', cEwl, PLUS, 4, RED);
sc(C, 'cEes', cEes, CROSS, 4, RED);
sc(C, 'cEgs', cEgs, 'emptyCircle', 5, RED);
sc(C, 'cHwl', cHwl, PLUS, 4, BLUE);
sc(C, 'cHes', cHes, CROSS, 4, BLUE);
sc(C, 'cHgs', cHgs, 'emptyCircle', 5, BLUE);
// (d)
ln(D, 'dField', dField, BLUE, 1.1);
series.push({ type: 'line', name: 'dDots', xAxisIndex: D.xi, yAxisIndex: D.yi, data: dDots.map((v, i) => [qdX[i], v]),
  symbol: 'circle', symbolSize: 6, lineStyle: { color: '#000', width: 0.6, type: [2, 2] }, itemStyle: { color: '#000' }, silent: true, animation: false, z: 3 });
// (e)
ln(E, 'eGph', eGph, BLUE, 1.3, 'solid', 0.3);
ln(E, 'eUrad', eUrad, '#1414e6', 1.3);
ln(E, 'eSrh', eSrh, ORANGE, 1.1, [3, 2]);
sc(E, 'eRneg', eRneg, 'triangle', 9, '#c00000', { symbolRotate: 180 });
sc(E, 'eRpos', eRpos, 'emptyTriangle', 8, RED);
sc(E, 'eWl', eWl, 'emptyCircle', 7, GREEN);
sc(E, 'eEs', eEs, CROSS, 6, GREEN);
sc(E, 'eGs', eGs, PLUS, 7, GREEN);
sc(E, 'eGqd', eGqd, 'emptyCircle', 7, '#000', { itemStyle: { color: '#000', borderWidth: 1.4 } });
// (f)
ln(F, 'fEfn', fEfn, RED, 1, [3, 2]);
ln(F, 'fEfp', fEfp, BLUE, 1, [3, 2]);
ln(F, 'fEcb', fEcb, RED, 1.2);
ln(F, 'fEvb', fEvb, BLUE, 1.2);
sc(F, 'fEfnqd', fFnQd, 'circle', 6, RED);
sc(F, 'fEfpqd', fFpQd, 'circle', 6, BLUE);
// (g)
ln(G, 'gElec', gElec, RED, 1.2);
ln(G, 'gHole', gHole, BLUE, 1.2);
// (h)
sc(H, 'hEwl', hEwl, PLUS, 4, RED);
sc(H, 'hEes', hEes, CROSS, 4, RED);
sc(H, 'hEgs', hEgs, 'emptyCircle', 5, RED);
sc(H, 'hHwl', hHwl, PLUS, 4, BLUE);
sc(H, 'hHes', hHes, CROSS, 4, BLUE);
sc(H, 'hHgs', hHgs, 'emptyCircle', 5, BLUE);
// (i)
ln(I, 'iField', iField, BLUE, 1.1);
series.push({ type: 'line', name: 'iDots', xAxisIndex: I.xi, yAxisIndex: I.yi, data: iDots.map((v, i) => [qdX[i], v]),
  symbol: 'circle', symbolSize: 6, lineStyle: { color: '#000', width: 0.6, type: [2, 2] }, itemStyle: { color: '#000' }, silent: true, animation: false, z: 3 });
// (j)
ln(J, 'jGph', jGph, BLUE, 1.3, 'solid', 0.3);
ln(J, 'jUrad', jUrad, '#1414e6', 1.3);
ln(J, 'jSrh', jSrh, ORANGE, 1.1, [3, 2]);
sc(J, 'jRneg', jRneg, 'emptyTriangle', 9, RED, { symbolRotate: 180 });
sc(J, 'jRpos', jRpos, 'emptyTriangle', 8, RED);
sc(J, 'jWl', jWl, 'emptyCircle', 7, GREEN);
sc(J, 'jEs', jEs, CROSS, 6, GREEN);
sc(J, 'jGs', jGs, PLUS, 7, GREEN);
sc(J, 'jGqd', jGqd, 'emptyCircle', 7, '#000', { itemStyle: { color: '#000', borderWidth: 1.4 } });

// ---------- legends ----------
lg(['aEcb'], 205, 75, 9, 6.5, 16, 6); lg(['aEfn'], 258, 75, 9, 6.5, 19, 6); lg(['aEfnqd'], 307, 75, 9, 6.5, 8, 6);
lg(['aEvb'], 205, 98, 9, 6.5, 16, 6); lg(['aEfp'], 258, 98, 9, 6.5, 19, 6); lg(['aEfpqd'], 307, 98, 9, 6.5, 8, 6);
lg(['fEcb'], 213, 748, 9, 6.5, 16, 6); lg(['fEfn'], 260, 748, 9, 6.5, 17, 6); lg(['fEfnqd'], 315, 748, 9, 6.5, 8, 6);
lg(['fEvb'], 213, 770, 9, 6.5, 16, 6); lg(['fEfp'], 260, 770, 9, 6.5, 17, 6); lg(['fEfpqd'], 315, 770, 9, 6.5, 8, 6);
lg(['bElec'], 482, 90, 9, 6.5, 13, 6); lg(['bHole'], 482, 102, 9, 6.5, 13, 6);
lg(['gElec'], 490, 762, 9, 6.5, 13, 6); lg(['gHole'], 490, 773, 9, 6.5, 13, 6);
lg(['cEwl'], 807, 147, 8, 6, 4, 4); lg(['cEes'], 838, 147, 8, 6, 4, 4); lg(['cEgs'], 871, 147, 8, 6, 5, 5);
lg(['cHwl'], 807, 156, 8, 6, 4, 4); lg(['cHes'], 838, 156, 8, 6, 4, 4); lg(['cHgs'], 871, 156, 8, 6, 5, 5);
lg(['hEwl'], 768, 827, 8, 6, 4, 4); lg(['hEes'], 811, 827, 8, 6, 4, 4); lg(['hEgs'], 856, 827, 8, 6, 5, 5);
lg(['hHwl'], 768, 837, 8, 6, 4, 4); lg(['hHes'], 811, 837, 8, 6, 4, 4); lg(['hHgs'], 856, 837, 8, 6, 5, 5);

lg([{ name: 'eRneg', icon: DOWN_TRI, itemStyle: { color: '#c00000' } }], 585, 542, 17, 12, 10, 9);
lg([{ name: 'eRpos', icon: 'triangle', itemStyle: { color: RED, borderColor: RED } }], 697, 541, 17, 12, 10, 9);
lg(['eGph'], 820, 538, 17, 12, 17, 10);
lg([{ name: 'eWl', icon: 'circle', itemStyle: { color: '#111', borderColor: GREEN, borderWidth: 1.5 } }, 'eEs', 'eGs'], 655, 563, 17, 12, 8, 8, 5);
lg([{ name: 'eGqd', icon: 'circle', itemStyle: { color: '#000' } }], 822, 567, 17, 12, 10, 8);
lg(['eSrh'], 670, 585, 17, 12, 17, 10);
lg(['eUrad'], 742, 585, 17, 12, 18, 10);

lg([{ name: 'jRneg', icon: DOWN_TRI, itemStyle: { color: '#fff', borderColor: RED, borderWidth: 1.3 } }], 554, 999, 17, 12, 10, 8);
lg(['jRpos'], 676, 998, 17, 12, 10, 9);
lg(['jGph'], 810, 997, 17, 12, 18, 10);
lg(['jWl', 'jEs', 'jGs'], 631, 1022, 17, 12, 8, 8, 5);
lg(['jGqd'], 813, 1024, 17, 12, 10, 8);
lg(['jSrh'], 647, 1047, 17, 12, 18, 10);
lg(['jUrad'], 725, 1047, 17, 12, 18, 10);

// ---------- free text / decorations ----------
function txt(text, x, y, size, family, align, rich) {
  return { type: 'text', x, y, silent: true, z: 10,
    style: { text, fontSize: size, fontFamily: family, fill: '#111', align: align || 'center', verticalAlign: 'middle',
      textAlign: align || 'center', textVerticalAlign: 'middle', rich } };
}
const expRich = { m: { fontFamily: FONT, fontSize: 13, fill: AX, color: AX, lineHeight: 18, verticalAlign: 'bottom' },
                  p: { fontFamily: FONT, fontSize: 9, fill: AX, color: AX, lineHeight: 18, verticalAlign: 'top' } };
const graphics = [
  { type: 'rect', silent: true, z: 0, shape: { x: 8.5, y: -2, width: 940, height: 1345 }, style: { fill: 'none', stroke: '#8c8c8c', lineWidth: 1 } },
  { type: 'line', silent: true, z: 0, shape: { x1: 36, y1: 663, x2: 926, y2: 663 }, style: { stroke: '#1b9ad6', lineWidth: 5 } },
  txt('short circuit', 448, 19, 38, SANS),
  txt('open circuit', 448, 686, 38, SANS),
  txt('(a)', 102, 48, 21, FONT), txt('(b)', 453, 47, 21, FONT), txt('(c)', 715, 47, 21, FONT),
  txt('(d)', 40, 367, 21, FONT), txt('(e)', 888, 290, 21, FONT), txt('(f)', 100, 718, 21, FONT),
  txt('(g)', 452, 720, 21, FONT), txt('(h)', 709, 722, 21, FONT), txt('(i)', 43, 1039, 21, FONT), txt('(j)', 894, 963, 21, FONT),
  txt('{m|\u00d710}{p|4}', 83, 374, 13, FONT, 'left', expRich),
  txt('{m|\u00d710}{p|4}', 78, 1029, 13, FONT, 'left', expRich)
];

const chart = echarts.init(document.getElementById('main'), null, { renderer: 'canvas' });
chart.setOption({
  animation: false,
  backgroundColor: '#fff',
  grid: grids,
  xAxis: xAxes,
  yAxis: yAxes,
  legend: legends,
  series: series,
  graphic: graphics
});
</script>
</body>
</html>
